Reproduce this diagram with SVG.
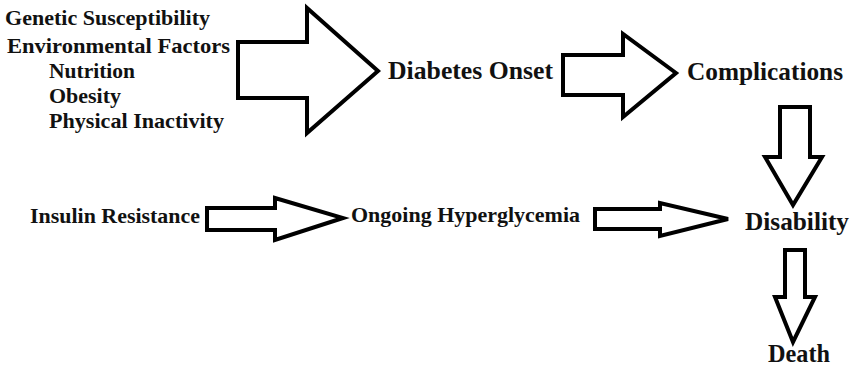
<svg xmlns="http://www.w3.org/2000/svg" width="858" height="370" viewBox="0 0 858 370">
<style>
.t{font-family:"Liberation Serif","Times New Roman",serif;font-weight:bold;fill:#111;}
.s{font-size:21px;}
.l{font-size:25px;}
.a{fill:#fff;stroke:#000;stroke-width:4;stroke-linejoin:miter;}
</style>
<rect width="858" height="370" fill="#fff"/>
<g id="connectors">
<polygon class="a" points="238,42 307,42 307,8 378,71 307,133 307,98 238,98"/>
<polygon class="a" points="563,55 623,55 623,34 676,73 623,117 623,95 563,95"/>
<polygon class="a" points="780,107 810,107 810,157 822,157 793,205 765,157 780,157"/>
<polygon class="a" points="207,208 275,208 275,198 343,218 275,240 275,230 207,230"/>
<polygon class="a" points="595,209 660,209 660,203 728,219 660,236 660,229 595,229"/>
<polygon class="a" points="785,250 805,250 805,297 815,297 793,342 775,297 785,297"/>
</g>
<g id="causes">
<text class="t s" x="5" y="25" textLength="205" lengthAdjust="spacingAndGlyphs">Genetic Susceptibility</text>
<text class="t s" x="7" y="53" textLength="223" lengthAdjust="spacingAndGlyphs">Environmental Factors</text>
<text class="t s" x="49" y="78" textLength="86" lengthAdjust="spacingAndGlyphs">Nutrition</text>
<text class="t s" x="49" y="103" textLength="72" lengthAdjust="spacingAndGlyphs">Obesity</text>
<text class="t s" x="49" y="128" textLength="175" lengthAdjust="spacingAndGlyphs">Physical Inactivity</text>
</g>
<g id="onset"><text class="t l" x="388" y="79" textLength="165" lengthAdjust="spacingAndGlyphs">Diabetes Onset</text></g>
<g id="complications"><text class="t l" x="687" y="80" textLength="156" lengthAdjust="spacingAndGlyphs">Complications</text></g>
<g id="insulin"><text class="t s" x="30" y="223" textLength="170" lengthAdjust="spacingAndGlyphs">Insulin Resistance</text></g>
<g id="hyperglycemia"><text class="t s" x="351" y="222" textLength="229" lengthAdjust="spacingAndGlyphs">Ongoing Hyperglycemia</text></g>
<g id="disability"><text class="t l" x="745" y="230" textLength="104" lengthAdjust="spacingAndGlyphs">Disability</text></g>
<g id="death"><text class="t l" x="768" y="362" textLength="62" lengthAdjust="spacingAndGlyphs">Death</text></g>
</svg>
